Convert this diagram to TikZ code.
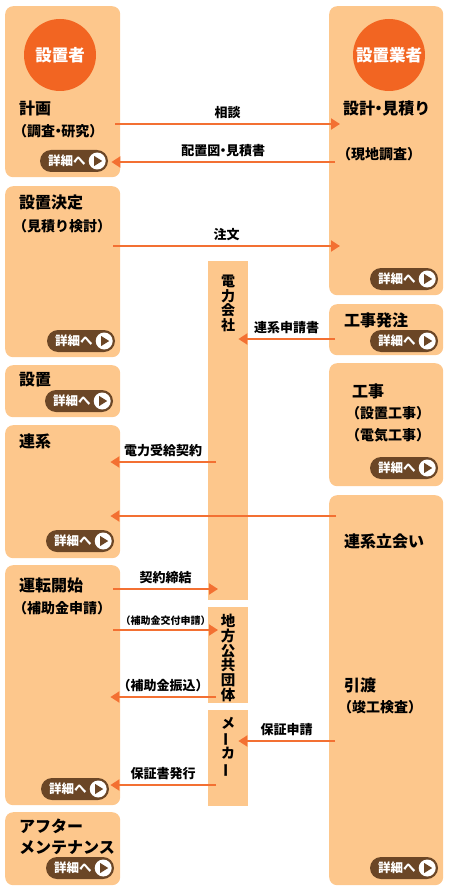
\documentclass[tikz,border=0pt]{standalone}
\usepackage{fontspec}
\setmainfont{Noto Sans CJK JP}
\usetikzlibrary{arrows.meta, positioning}
\definecolor{boxfill}{RGB}{253,199,140}
\definecolor{circfill}{RGB}{242,101,34}
\definecolor{arrowc}{RGB}{243,112,50}
\definecolor{btnbrown}{RGB}{107,70,38}
\newcommand{\dotsep}{\hspace{-0.28em}・\hspace{-0.28em}}
\tikzset{
  box/.style={fill=boxfill, rounded corners=8pt, anchor=north west, inner sep=0pt},
  midbox/.style={fill=boxfill, anchor=north west, inner sep=0pt},
  actor/.style={circle, fill=circfill, minimum size=72pt, inner sep=0pt, text=white,
    font=\bfseries\fontsize{16.5}{16.5}\selectfont},
  stage/.style={anchor=west, inner sep=0pt, font=\bfseries\fontsize{16}{16}\selectfont},
  substage/.style={anchor=west, inner sep=0pt, font=\bfseries\fontsize{14}{14}\selectfont},
  vtext/.style={align=center, inner sep=0pt, font=\bfseries\fontsize{14}{14.6}\selectfont},
  flow/.style={draw=arrowc, line width=2pt, -{Triangle[length=9pt,width=11pt]}},
  lbl/.style={above=4pt, inner sep=0pt, font=\bfseries\fontsize{13}{13}\selectfont},
  smalllbl/.style={above=3pt, inner sep=0pt, font=\bfseries\fontsize{10}{10}\selectfont},
  btn/.style={fill=btnbrown, rounded corners=11pt, minimum width=68pt, minimum height=22pt, inner sep=0pt},
  btntext/.style={anchor=west, inner sep=0pt, text=white, font=\bfseries\fontsize{12.5}{12.5}\selectfont},
  btnplay/.style={circle, fill=white, minimum size=17pt, inner sep=0pt}
}
% detail button: name, centre
\newcommand{\detailbtn}[2]{%
  \node[btn] (#1) at (#2) {};
  \node[btntext] at ([xshift=8pt]#1.west) {詳細へ};
  \node[btnplay] (#1-c) at ([xshift=-11pt]#1.east) {};
  \fill[btnbrown] ([xshift=-3pt,yshift=5pt]#1-c.center) -- ([xshift=5pt]#1-c.center)
    -- ([xshift=-3pt,yshift=-5pt]#1-c.center) -- cycle;
}
\begin{document}
\begin{tikzpicture}[x=1pt, y=-1pt]
\useasboundingbox (0,0) rectangle (450,893);
% left column
\node[box, minimum width=115pt, minimum height=171pt] (keikaku) at (5,6) {};
\node[box, minimum width=115pt, minimum height=171pt] (kettei) at (5,186) {};
\node[box, minimum width=115pt, minimum height=52pt] (secchi) at (5,365) {};
\node[box, minimum width=115pt, minimum height=133pt] (renkei) at (5,425) {};
\node[box, minimum width=115pt, minimum height=240pt] (unten) at (5,565) {};
\node[box, minimum width=115pt, minimum height=73pt] (after) at (5,812) {};
% right column
\node[box, minimum width=114pt, minimum height=289pt] (sekkei) at (329,6) {};
\node[box, minimum width=114pt, minimum height=51pt] (hatchu) at (329,304) {};
\node[box, minimum width=114pt, minimum height=123pt] (koji) at (329,363) {};
\node[box, minimum width=114pt, minimum height=390pt] (tachiai) at (329,495) {};
% middle column
\node[midbox, minimum width=40pt, minimum height=339pt] (denryoku) at (208,261) {};
\node[midbox, minimum width=40pt, minimum height=96pt] (jichitai) at (208,607) {};
\node[midbox, minimum width=40pt, minimum height=96pt] (maker) at (208,710) {};
% actors
\node[actor] (setchisha) at (60,55) {設置者};
\node[actor] (gyosha) at (389,55) {設置業者};
% stage texts
\node[stage] (t-keikaku) at (19,108) {計画};
\node[substage] (s-keikaku) at (13,131) {（調査\dotsep 研究）};
\node[stage] (t-kettei) at (19,202) {設置決定};
\node[substage] (s-kettei) at (13,226) {（見積り検討）};
\node[stage] (t-secchi) at (19,380) {設置};
\node[stage] (t-renkei) at (19,441) {連系};
\node[stage] (t-unten) at (19,585) {運転開始};
\node[substage] (s-unten) at (13,608) {（補助金申請）};
\node[stage] (t-after1) at (19,826) {アフター};
\node[stage] (t-after2) at (19,848) {メンテナンス};
\node[stage] (t-sekkei) at (343,108) {設計\dotsep 見積り};
\node[substage] (s-sekkei) at (337,154) {（現地調査）};
\node[stage] (t-hatchu) at (344,320) {工事発注};
\node[stage] (t-koji) at (352,391) {工事};
\node[substage] (s-koji1) at (346,413) {（設置工事）};
\node[substage] (s-koji2) at (346,435) {（電気工事）};
\node[stage] (t-tachiai) at (344,541) {連系立会い};
\node[stage] (t-hikiwatashi) at (344,685) {引渡};
\node[substage] (s-hikiwatashi) at (338,707) {（竣工検査）};
% vertical names
\node[vtext, anchor=north] (v-denryoku) at (228,275) {電\\力\\会\\社};
\node[vtext, font=\bfseries\fontsize{14.5}{14.8}\selectfont] (v-jichitai) at (228,658) {地\\方\\公\\共\\団\\体};
\node[vtext] (v-maker) at (228,747) {メ\\\rotatebox[origin=c]{90}{ー}\\カ\\\rotatebox[origin=c]{90}{ー}};
% buttons
\detailbtn{b-keikaku}{74,161}
\detailbtn{b-kettei}{81,341}
\detailbtn{b-secchi}{79,401}
\detailbtn{b-renkei}{80,541}
\detailbtn{b-unten}{75,789}
\detailbtn{b-after}{80,868}
\detailbtn{b-sekkei}{404,279}
\detailbtn{b-hatchu}{404,341}
\detailbtn{b-koji}{404,468}
\detailbtn{b-tachiai}{404,868}
% flows
\draw[flow] ([xshift=-5pt]keikaku.east |- 0,124) -- node[lbl] {相談} ([xshift=11pt]sekkei.west |- 0,124);
\draw[flow] ([xshift=6pt]sekkei.west |- 0,162) -- node[lbl] {配置図\dotsep 見積書} ([xshift=-9pt]keikaku.east |- 0,162);
\draw[flow] ([xshift=-7pt]kettei.east |- 0,246) -- node[lbl] {注文} ([xshift=11pt]sekkei.west |- 0,246);
\draw[flow] ([xshift=6pt]hatchu.west |- 0,339) -- node[lbl] {連系申請書} ([xshift=-10pt]denryoku.east |- 0,339);
\draw[flow] ([xshift=8pt]denryoku.west |- 0,462) -- node[lbl] {電力受給契約} ([xshift=-10pt]renkei.east |- 0,462);
\draw[flow] ([xshift=7pt]tachiai.west |- 0,516) -- ([xshift=-10pt]renkei.east |- 0,516);
\draw[flow] ([xshift=-7pt]unten.east |- 0,589) -- node[lbl] {契約締結} ([xshift=10pt]denryoku.west |- 0,589);
\draw[flow] ([xshift=-7pt]unten.east |- 0,630) -- node[smalllbl] {（補助金交付申請）} ([xshift=10pt]jichitai.west |- 0,630);
\draw[flow] ([xshift=8pt]jichitai.west |- 0,697) -- node[lbl] {（補助金振込）} ([xshift=-10pt]unten.east |- 0,697);
\draw[flow] ([xshift=6pt]tachiai.west |- 0,741) -- node[lbl] {保証申請} ([xshift=-10pt]maker.east |- 0,741);
\draw[flow] ([xshift=8pt]maker.west |- 0,785) -- node[lbl] {保証書発行} ([xshift=-10pt]unten.east |- 0,785);
\end{tikzpicture}
\end{document}
